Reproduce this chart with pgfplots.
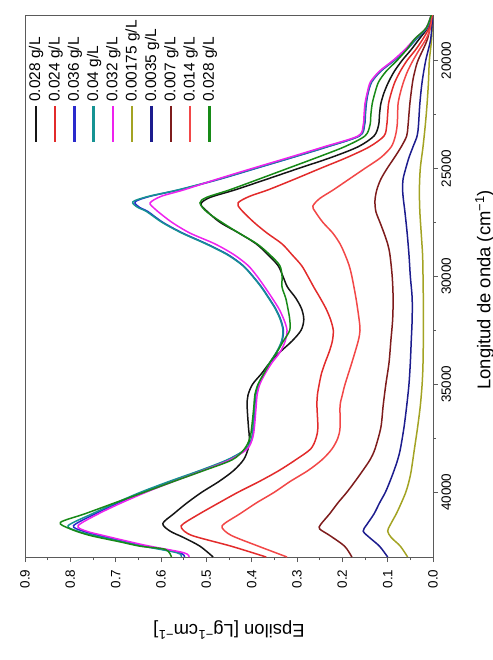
\documentclass[border=0pt]{standalone}
\usepackage{fontspec}
\setmainfont{Liberation Sans}
\usepackage{pgfplots}
\usepackage{pgfplotstable}
\pgfplotsset{compat=1.18}

\definecolor{axgray}{HTML}{5A5A5A}
\definecolor{cBlack}{HTML}{151515}
\definecolor{cRedA}{HTML}{E22B2B}
\definecolor{cBlue}{HTML}{2A2ACC}
\definecolor{cTeal}{HTML}{169393}
\definecolor{cMag}{HTML}{EE22EE}
\definecolor{cOlive}{HTML}{A3A323}
\definecolor{cNavy}{HTML}{1C1C8E}
\definecolor{cMaroon}{HTML}{7E1C1C}
\definecolor{cRedB}{HTML}{F24747}
\definecolor{cGreen}{HTML}{178A17}

% 0.028 g/L (black)
\pgfplotstableread{
wn eps
17900 0.003
18500 0.012
19000 0.030
19500 0.048
20000 0.068
20500 0.085
21000 0.098
21500 0.108
22000 0.115
22500 0.118
23000 0.120
23500 0.130
24000 0.165
24500 0.225
25000 0.296
25500 0.366
26000 0.437
26350 0.492
26650 0.512
27000 0.498
27500 0.470
28000 0.428
28500 0.390
29000 0.364
29500 0.342
30000 0.331
30500 0.321
31000 0.303
31500 0.290
32000 0.285
32500 0.291
33000 0.311
33500 0.337
34000 0.360
34500 0.378
35000 0.398
35500 0.408
36000 0.410
37000 0.407
37500 0.405
38000 0.408
38500 0.418
39000 0.440
39500 0.472
40000 0.510
40500 0.543
41000 0.572
41450 0.596
41800 0.580
42100 0.550
42500 0.514
43000 0.485
}\tblA

% 0.024 g/L (red)
\pgfplotstableread{
wn eps
17900 0.003
18500 0.009
19000 0.022
19500 0.038
20000 0.057
20500 0.072
21000 0.084
21500 0.092
22000 0.098
22500 0.100
23000 0.102
23500 0.108
24000 0.140
24500 0.190
25000 0.248
25500 0.305
26000 0.364
26300 0.405
26600 0.430
26900 0.424
27500 0.395
28000 0.366
28500 0.333
29000 0.311
29500 0.290
30000 0.276
30500 0.263
31000 0.249
31500 0.236
32000 0.226
32500 0.220
33000 0.222
33500 0.229
34000 0.238
34500 0.246
35000 0.251
35500 0.255
36000 0.256
37000 0.254
37500 0.258
38000 0.270
38500 0.303
39000 0.340
39500 0.383
40000 0.430
40500 0.473
41000 0.515
41450 0.550
41650 0.555
42000 0.532
42500 0.445
43000 0.368
}\tblB

% 0.036 g/L (blue)
\pgfplotstableread{
wn eps
17900 0.003
18500 0.013
19000 0.036
19500 0.058
20000 0.085
20500 0.115
21000 0.135
21500 0.143
22000 0.147
22500 0.149
23000 0.151
23500 0.162
24000 0.232
24500 0.310
25000 0.390
25500 0.470
26000 0.560
26300 0.625
26550 0.657
26800 0.648
27000 0.629
27500 0.596
28000 0.552
28500 0.499
29000 0.452
29500 0.419
30000 0.397
30500 0.378
31000 0.362
31500 0.347
32000 0.336
32500 0.330
33000 0.333
33500 0.344
34000 0.359
34500 0.372
35000 0.384
35500 0.391
36000 0.393
37000 0.396
37500 0.399
38000 0.412
38500 0.452
39000 0.512
39500 0.578
40000 0.640
40500 0.695
41000 0.745
41550 0.793
41800 0.772
42000 0.737
42450 0.646
42800 0.560
43000 0.548
}\tblC

% 0.04 g/L (teal)
\pgfplotstableread{
wn eps
17900 0.003
18500 0.014
19000 0.037
19500 0.059
20000 0.086
20500 0.116
21000 0.136
21500 0.144
22000 0.148
22500 0.150
23000 0.152
23500 0.163
24000 0.234
24500 0.312
25000 0.392
25500 0.472
26000 0.563
26300 0.628
26550 0.662
26800 0.652
27000 0.632
27500 0.598
28000 0.554
28500 0.501
29000 0.454
29500 0.420
30000 0.398
30500 0.379
31000 0.363
31500 0.348
32000 0.337
32500 0.331
33000 0.334
33500 0.345
34000 0.360
34500 0.373
35000 0.385
35500 0.392
36000 0.394
37000 0.397
37500 0.400
38000 0.413
38500 0.454
39000 0.515
39500 0.582
40000 0.645
40500 0.700
41000 0.752
41550 0.805
41800 0.784
42000 0.748
42450 0.652
42800 0.565
43000 0.555
}\tblD

% 0.032 g/L (magenta)
\pgfplotstableread{
wn eps
17900 0.004
18500 0.015
19000 0.040
19500 0.062
20000 0.088
20500 0.118
21000 0.138
21500 0.145
22000 0.150
22500 0.152
23000 0.154
23500 0.165
24000 0.240
24500 0.318
25000 0.398
25500 0.476
26000 0.550
26300 0.600
26600 0.624
26850 0.615
27000 0.607
27500 0.576
28000 0.536
28500 0.481
29000 0.439
29500 0.408
30000 0.388
30500 0.371
31000 0.355
31500 0.340
32000 0.329
32500 0.322
33000 0.326
33500 0.337
34000 0.355
34500 0.370
35000 0.382
35500 0.388
36000 0.390
37000 0.394
37500 0.398
38000 0.410
38500 0.448
39000 0.508
39500 0.572
40000 0.633
40500 0.688
41000 0.738
41550 0.783
41800 0.765
42000 0.728
42450 0.636
42800 0.550
43000 0.538
}\tblE

% 0.00175 g/L (olive)
\pgfplotstableread{
wn eps
17900 0.001
19000 0.003
20000 0.008
21000 0.010
22000 0.013
23000 0.017
24000 0.022
25000 0.028
26000 0.030
27000 0.029
28000 0.026
29000 0.023
30000 0.022
32000 0.021
34000 0.022
35000 0.024
36000 0.028
37000 0.034
38000 0.041
39000 0.048
39500 0.053
40000 0.060
40500 0.070
41000 0.081
41500 0.094
41800 0.100
42100 0.092
42500 0.072
43000 0.056
}\tblF

% 0.0035 g/L (navy)
\pgfplotstableread{
wn eps
17900 0.001
19000 0.005
20000 0.016
21000 0.024
22000 0.029
23000 0.032
23500 0.035
24000 0.044
24500 0.053
25000 0.060
25500 0.066
26000 0.067
26500 0.065
27000 0.062
28000 0.057
29000 0.053
30000 0.050
31000 0.046
32000 0.046
33000 0.048
34000 0.050
35000 0.053
36000 0.058
37000 0.064
38000 0.072
38500 0.078
39000 0.086
39500 0.095
40000 0.105
40500 0.118
41000 0.130
41500 0.146
41800 0.154
42100 0.140
42500 0.118
43000 0.100
}\tblG

% 0.007 g/L (maroon)
\pgfplotstableread{
wn eps
17900 0.002
19000 0.012
20000 0.033
20500 0.040
21000 0.045
22000 0.051
23000 0.055
23500 0.058
24000 0.070
24500 0.085
25000 0.101
25500 0.115
26000 0.124
26500 0.128
27000 0.126
27500 0.117
28000 0.108
28500 0.100
29000 0.095
30000 0.090
31000 0.088
32000 0.089
33000 0.093
34000 0.097
35000 0.104
36000 0.110
37000 0.115
38000 0.128
38500 0.139
39000 0.155
39500 0.172
40000 0.190
40500 0.210
41000 0.228
41500 0.248
41700 0.250
42000 0.228
42500 0.195
43000 0.179
}\tblH

% 0.014 g/L (light red)
\pgfplotstableread{
wn eps
17900 0.002
18500 0.006
19000 0.015
19500 0.030
20000 0.044
20500 0.056
21000 0.065
21500 0.072
22000 0.077
22500 0.078
23000 0.079
23500 0.083
24000 0.092
24500 0.115
25000 0.150
25500 0.185
26000 0.220
26400 0.250
26750 0.265
27000 0.260
27500 0.243
28000 0.221
28500 0.205
29000 0.194
29500 0.185
30000 0.179
31000 0.170
32000 0.163
32500 0.161
33000 0.165
34000 0.179
35000 0.194
35500 0.200
36000 0.205
37000 0.205
37500 0.210
38000 0.223
38500 0.245
39000 0.276
39500 0.315
40000 0.350
40500 0.390
41000 0.426
41450 0.460
41650 0.465
42000 0.445
42500 0.385
43000 0.322
}\tblI

% 0.028 g/L (green)
\pgfplotstableread{
wn eps
17900 0.004
18500 0.015
19000 0.040
19500 0.058
20000 0.079
20500 0.103
21000 0.120
21500 0.128
22000 0.134
22500 0.137
23000 0.139
23500 0.150
24000 0.195
24500 0.256
25000 0.320
25500 0.384
26000 0.449
26350 0.500
26600 0.514
27000 0.500
27500 0.466
28000 0.428
28500 0.388
29000 0.360
29500 0.338
30000 0.333
30500 0.333
31000 0.325
31500 0.320
32000 0.316
32500 0.316
33000 0.330
33500 0.344
34000 0.360
34500 0.373
35000 0.386
35500 0.393
36000 0.395
37000 0.400
37500 0.404
38000 0.416
38500 0.443
39000 0.506
39500 0.572
40000 0.637
40500 0.703
41000 0.768
41400 0.822
41700 0.800
42000 0.757
42300 0.690
42500 0.646
42650 0.590
43000 0.577
}\tblJ

\begin{document}
\begin{tikzpicture}
\useasboundingbox (-25bp,-103bp) rectangle (468bp,557bp);
\begin{axis}[
  at={(0,0)}, anchor=south west,
  scale only axis, width=408bp, height=542bp,
  xmin=0, xmax=0.9, ymin=17900, ymax=43000,
  x dir=reverse, y dir=reverse,
  xtick={0,0.1,0.2,0.3,0.4,0.5,0.6,0.7,0.8,0.9},
  ytick={20000,25000,30000,35000,40000},
  minor x tick num=1, minor y tick num=1,
  tick align=outside,
  xtick pos=left, ytick pos=right, yticklabel pos=right,
  major tick length=5bp, minor tick length=3bp,
  scaled x ticks=false, scaled y ticks=false,
  /pgf/number format/assume math mode=true,
  x tick label style={/pgf/number format/fixed, /pgf/number format/fixed zerofill, /pgf/number format/precision=1},
  y tick label style={/pgf/number format/set thousands separator={}},
  tick label style={font=\fontsize{13.5}{15}\selectfont},
  xticklabel style={rotate=90, anchor=east},
  yticklabel style={rotate=90, anchor=north},
  xticklabel shift=4bp,
  axis line style={axgray, line width=0.9bp},
  every tick/.style={axgray, line width=0.9bp},
  label style={font=\fontsize{18.5}{21}\selectfont},
  xlabel={Epsilon [Lg\textsuperscript{−1}cm\textsuperscript{−1}]},
  xlabel style={at={(axis description cs:0.5,-0.135)}, anchor=center, rotate=180},
  ylabel={Longitud de onda (cm\textsuperscript{−1})},
  ylabel style={at={(axis description cs:1.127,0.493)}, anchor=center},
  legend columns=10,
  legend style={at={(axis description cs:0.0022,0.836)}, anchor=south west,
    draw=none, fill=none, inner sep=0pt, font=\fontsize{15.5}{17}\selectfont,
    nodes={rotate=90, inner sep=1bp, text height=11bp, text depth=3.5bp},
    column sep=0.65bp},
  legend cell align=left,
  legend image code/.code={\path (0bp,0bp); \draw[#1, line width=2.4bp, overlay] (8.9bp,-3bp) -- (8.9bp,-39bp);},
  every axis plot/.append style={line width=1.5bp, smooth},
]
\addplot[cBlack] table[x=eps, y=wn] {\tblA};
\addlegendentry{0.028 g/L}
\addplot[cRedA] table[x=eps, y=wn] {\tblB};
\addlegendentry{0.024 g/L}
\addplot[cBlue] table[x=eps, y=wn] {\tblC};
\addlegendentry{0.036 g/L}
\addplot[cTeal] table[x=eps, y=wn] {\tblD};
\addlegendentry{0.04 g/L}
\addplot[cMag] table[x=eps, y=wn] {\tblE};
\addlegendentry{0.032 g/L}
\addplot[cOlive] table[x=eps, y=wn] {\tblF};
\addlegendentry{0.00175 g/L}
\addplot[cNavy] table[x=eps, y=wn] {\tblG};
\addlegendentry{0.0035 g/L}
\addplot[cMaroon] table[x=eps, y=wn] {\tblH};
\addlegendentry{0.007 g/L}
\addplot[cRedB] table[x=eps, y=wn] {\tblI};
\addlegendentry{0.014 g/L}
\addplot[cGreen] table[x=eps, y=wn] {\tblJ};
\addlegendentry{0.028 g/L}
\end{axis}
\end{tikzpicture}
\end{document}
